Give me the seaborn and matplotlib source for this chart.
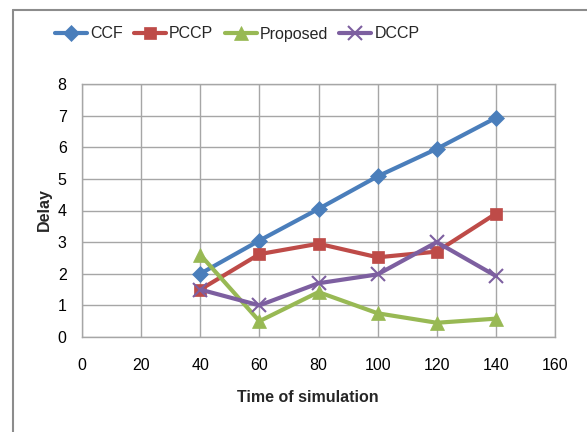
import matplotlib
matplotlib.use("Agg")
import matplotlib.pyplot as plt
import seaborn as sns
import pandas as pd
from matplotlib.lines import Line2D

time = [40, 60, 80, 100, 120, 140]
ccf = [2.0, 3.05, 4.05, 5.08, 5.95, 6.93]
pccp = [1.5, 2.62, 2.95, 2.52, 2.7, 3.9]
proposed = [2.6, 0.5, 1.42, 0.75, 0.45, 0.58]
dccp = [1.5, 1.0, 1.7, 1.98, 3.0, 1.93]
series_names = ["CCF", "PCCP", "Proposed", "DCCP"]
x_ticks = [0, 20, 40, 60, 80, 100, 120, 140, 160]
y_ticks = [0, 1, 2, 3, 4, 5, 6, 7, 8]

rows = []
for name, vals in zip(series_names, [ccf, pccp, proposed, dccp]):
    for t, v in zip(time, vals):
        rows.append({"Time": t, "Delay": v, "Series": name})
df = pd.DataFrame(rows)

sns.set_theme(style="white")
plt.rcParams['font.family'] = ['Liberation Sans', 'DejaVu Sans']

palette = {"CCF": "#4a7ebb", "PCCP": "#be4b48", "Proposed": "#98b954", "DCCP": "#7d5fa0"}
markers = {"CCF": "D", "PCCP": "s", "Proposed": "^", "DCCP": "x"}
msizes = {"CCF": 8, "PCCP": 9, "Proposed": 10, "DCCP": 10}

fig = plt.figure(figsize=(5.87, 4.32), dpi=100)
# outer frame: only left and top edges visible
fig.add_artist(Line2D([12.5/587, 12.5/587], [0, 1 - 10/432], transform=fig.transFigure,
                      color="#8c8c8c", linewidth=1.5))
fig.add_artist(Line2D([12.5/587, 1], [1 - 10/432, 1 - 10/432], transform=fig.transFigure,
                      color="#8c8c8c", linewidth=1.5))

ax = fig.add_axes([82/587, 1 - 337/432, (555 - 82)/587, (337 - 84)/432])

for name in series_names:
    sub = df[df["Series"] == name]
    sns.lineplot(data=sub, x="Time", y="Delay", ax=ax, color=palette[name], marker=markers[name],
                 markersize=msizes[name], linewidth=3, label=name,
                 markeredgecolor=palette[name], markeredgewidth=1.5 if name == "DCCP" else 0.5)

ax.set_xlim(0, 160)
ax.set_ylim(0, 8)
ax.set_xticks(x_ticks)
ax.set_yticks(y_ticks)
ax.grid(True, color="#a6a6a6", linewidth=1)
for s in ax.spines.values():
    s.set_color("#a6a6a6")
    s.set_linewidth(1)
ax.tick_params(axis="x", labelsize=11.5, colors="#000000", length=0, pad=15)
ax.tick_params(axis="y", labelsize=11.5, colors="#000000", length=0, pad=11)
ax.set_xlabel("Time of simulation", fontsize=11.5, fontweight="bold")
ax.set_ylabel("Delay", fontsize=11.5, fontweight="bold")
ax.xaxis.label.set_va("center")
ax.yaxis.label.set_va("center")
ax.xaxis.set_label_coords((308 - 82)/473, (337 - 397)/253)
ax.yaxis.set_label_coords((44 - 82)/473, (337 - 210)/253)

ax.legend(loc="center left", bbox_to_anchor=(47/587, 1 - 34/432), bbox_transform=fig.transFigure,
          ncol=4, frameon=False, fontsize=11.5, handlelength=2.0, handletextpad=0.2, columnspacing=0.7,
          borderpad=0)

fig.savefig("out.png", dpi=100)
